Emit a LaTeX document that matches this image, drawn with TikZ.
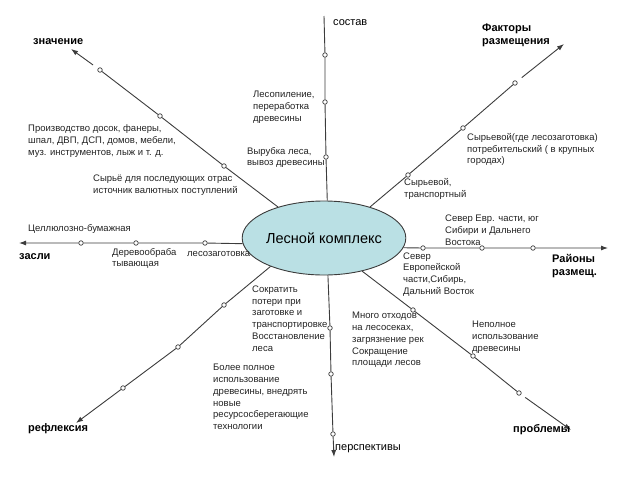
\documentclass[tikz,border=0pt]{standalone}
\usepackage{fontspec}
\setmainfont{Liberation Sans}
\usetikzlibrary{shapes.geometric,arrows.meta}
\definecolor{lesfill}{RGB}{186,224,228}
\definecolor{raygray}{RGB}{60,60,60}
\definecolor{txtgray}{RGB}{35,35,35}
\begin{document}
\begin{tikzpicture}
    [x=1pt,y=-1pt,inner sep=0pt,
     ray/.style={draw=raygray,line width=0.9pt,-{Latex[length=7pt,width=5pt]}},
     dot/.style={circle,draw=raygray,line width=0.7pt,fill=white,minimum size=4.5pt},
     note/.style={anchor=west,align=left,font=\fontsize{9.5}{11.8}\selectfont,text=txtgray},
     axlbl/.style={anchor=west,align=left,font=\fontsize{11}{13.5}\selectfont\bfseries}]
    \useasboundingbox (0,0) rectangle (640,480);
    \node (les) at (324, 238) [ellipse,draw=raygray,line width=0.9pt,fill=lesfill,
      minimum width=139pt,minimum height=74pt,font=\fontsize{14.5}{17}\selectfont] {Лесной комплекс};
    % ends of the rays
    \coordinate (sost) at (324, 16);
    \coordinate (persp) at (334, 457);
    \coordinate (otr) at (19, 243);
    \coordinate (rai) at (608, 248);
    \coordinate (zn) at (71, 49);
    \coordinate (fak) at (564, 44);
    \coordinate (ref) at (76, 423);
    \coordinate (prob) at (571, 430);
    % points on the rays
    \node (u1) at (326, 157) [dot] {};
    \node (u2) at (325, 102) [dot] {};
    \node (u3) at (325, 55) [dot] {};
    \node (d1) at (330, 328) [dot] {};
    \node (d2) at (331, 374) [dot] {};
    \node (d3) at (333, 434) [dot] {};
    \node (l1) at (205, 243) [dot] {};
    \node (l2) at (136, 243) [dot] {};
    \node (l3) at (81, 243) [dot] {};
    \node (r1) at (423, 248) [dot] {};
    \node (r2) at (482, 248) [dot] {};
    \node (r3) at (533, 248) [dot] {};
    \node (ul1) at (224, 166) [dot] {};
    \node (ul2) at (160, 116) [dot] {};
    \node (ul3) at (100, 70) [dot] {};
    \node (ur1) at (408, 175) [dot] {};
    \node (ur2) at (463, 128) [dot] {};
    \node (ur3) at (515, 83) [dot] {};
    \node (ll1) at (224, 305) [dot] {};
    \node (ll2) at (178, 347) [dot] {};
    \node (ll3) at (123, 388) [dot] {};
    \node (lr1) at (413, 310) [dot] {};
    \node (lr2) at (473, 356) [dot] {};
    \node (lr3) at (519, 393) [dot] {};
    \draw [ray,-] (les.85) -- (u1) -- (u2) -- (u3) -- (sost);
    \draw [ray] (les.-84) -- (d1) -- (d2) -- (d3) -- (persp);
    \draw [ray] (les.184) -- (l1) -- (l2) -- (l3) -- (otr);
    \draw [ray] (les.-7) -- (r1) -- (r2) -- (r3) -- (rai);
    \draw [ray,shorten <=6pt] (les.146) -- (ul1) -- (ul2) -- (ul3) -- (zn);
    \draw [ray,shorten <=6pt] (les.34) -- (ur1) -- (ur2) -- (ur3) -- (fak);
    \draw [ray] (les.208) -- (ll1) -- (ll2) -- (ll3) -- (ref);
    \draw [ray,shorten <=5pt] (les.-41) -- (lr1) -- (lr2) -- (lr3) -- (prob);
    % ray labels
    \node (sostlbl) at (333, 23) [axlbl,font=\fontsize{11}{13.5}\selectfont] {состав};
    \node (persplbl) at (335, 449) [axlbl,font=\fontsize{11}{13.5}\selectfont] {перспективы};
    \node (otrlbl) at (19, 257) [axlbl] {засли};
    \node (railbl) at (552, 266) [axlbl] {Районы\\размещ.};
    \node (znlbl) at (33, 42) [axlbl] {значение};
    \node (faklbl) at (482, 35.5) [axlbl] {Факторы\\размещения};
    \node (reflbl) at (28, 429) [axlbl] {рефлексия};
    \node (problbl) at (513, 430) [axlbl] {проблемы};
    % notes
    \node (proizv) at (28, 141) [note] {Производство досок, фанеры,\\шпал, ДВП, ДСП, домов, мебели,\\муз. инструментов, лыж и т. д.};
    \node (syrjo) at (93, 185) [note] {Сырьё для последующих отрас\\источник валютных поступлений};
    \node (lesopil) at (253, 107) [note] {Лесопиление,\\переработка\\древесины};
    \node (vyrub) at (247, 157.5) [note] {Вырубка леса,\\вывоз древесины};
    \node (syrpotr) at (467, 149.5) [note] {Сырьевой(где лесозаготовка)\\потребительский ( в крупных\\городах)};
    \node (syrtr) at (404, 189) [note] {Сырьевой,\\транспортный};
    \node (sevjug) at (445, 230.5) [note] {Север Евр. части, юг\\Сибири и Дальнего\\Востока};
    \node (sevevr) at (403, 274.5) [note] {Север\\Европейской\\части,Сибирь,\\Дальний Восток};
    \node (cell) at (28, 229) [note] {Целлюлозно-бумажная};
    \node (derevo) at (112, 258.5) [note] {Деревообраба\\тывающая};
    \node (lesozag) at (187, 254) [note] {лесозаготовка};
    \node (sokr) at (252, 318.5) [note] {Сократить\\потери при\\заготовке и\\транспортировке\\Восстановление\\леса};
    \node (bolee) at (213, 397) [note] {Более полное\\использование\\древесины, внедрять\\новые\\ресурсосберегающие\\технологии};
    \node (mnogo) at (352, 340) [note] {Много отходов\\на лесосеках,\\загрязнение рек\\Сокращение\\площади лесов};
    \node (nepoln) at (472, 337.5) [note] {Неполное\\использование\\древесины};
  \end{tikzpicture}
\end{document}
